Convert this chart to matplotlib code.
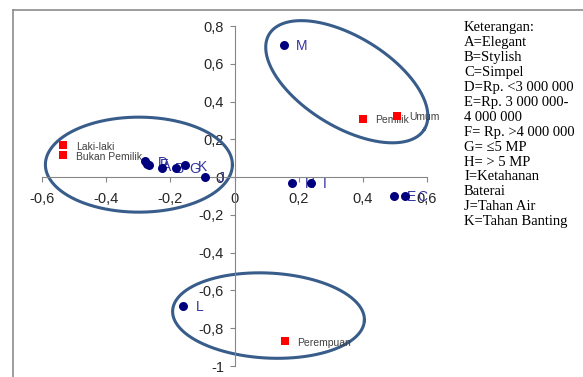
import numpy as np
import matplotlib
matplotlib.use('Agg')
import matplotlib.pyplot as plt
from matplotlib.lines import Line2D

# Attribute points (blue)
attr_labels = ['D', 'F', 'A', 'B', 'G', 'K', 'J', 'H', 'I', 'E', 'C', 'L', 'M']
attr_x = [-0.278, -0.272, -0.266, -0.225, -0.181, -0.153, -0.091, 0.180, 0.237, 0.497, 0.532, -0.160, 0.153]
attr_y = [0.084, 0.072, 0.062, 0.050, 0.050, 0.063, 0.003, -0.030, -0.030, -0.100, -0.100, -0.680, 0.700]

# Respondent groups (red)
group_labels = ['Laki-laki', 'Bukan Pemilik', 'Pemilik', 'Umum', 'Perempuan']
group_x = [-0.534, -0.534, 0.400, 0.506, 0.156]
group_y = [0.168, 0.116, 0.310, 0.326, -0.870]

x_ticks = [-0.6, -0.4, -0.2, 0, 0.2, 0.4, 0.6]
y_ticks = [-1, -0.8, -0.6, -0.4, -0.2, 0, 0.2, 0.4, 0.6, 0.8]

legend_lines = ['Keterangan:', 'A=Elegant', 'B=Stylish', 'C=Simpel',
                'D=Rp. <3 000 000', 'E=Rp. 3 000 000-', '4 000 000',
                'F= Rp. >4 000 000', 'G= \u22645 MP', 'H= > 5 MP',
                'I=Ketahanan', 'Baterai', 'J=Tahan Air', 'K=Tahan Banting']

# grouping ellipses: centre (data), semi-axes (pixels), angle (deg)
ellipses = [((-0.298, 0.066), 93.5, 47.5, 0),
            ((0.350, 0.505), 91, 45, -31.5),
            ((0.106, -0.733), 96, 42.5, -3)]


def fmt(v):
    s = ('%g' % v).replace('.', ',')
    return s


W, H = 583, 377
fig = plt.figure(figsize=(W / 100, H / 100), dpi=100)
ax = fig.add_axes([42 / W, 11 / H, 385 / W, 340 / H])
ax.set_xlim(-0.6, 0.6)
ax.set_ylim(-1, 0.8)

for s in ['top', 'right']:
    ax.spines[s].set_visible(False)
ax.spines['left'].set_position(('data', 0))
ax.spines['bottom'].set_position(('data', 0))
for s in ['left', 'bottom']:
    ax.spines[s].set_color('#868686')
    ax.spines[s].set_linewidth(0.8)

ax.set_xticks(x_ticks)
ax.set_yticks(y_ticks)
ax.set_xticklabels([fmt(v) for v in x_ticks])
ax.set_yticklabels([fmt(v) for v in y_ticks])
ax.tick_params(direction='out', length=3.5, width=0.8, color='#868686',
               labelsize=10.5, labelcolor='#262626')
ax.tick_params(axis='x', pad=7)
ax.tick_params(axis='y', pad=4)
for t in ax.get_xticklabels() + ax.get_yticklabels():
    t.set_family('Liberation Sans')
ax.patch.set_alpha(0)

# ellipses drawn in pixel space then mapped to data
fig.canvas.draw()
p0 = ax.transData.transform((0, 0))
p1 = ax.transData.transform((1, 1))
sx, sy = p1[0] - p0[0], p1[1] - p0[1]
t = np.linspace(0, 2 * np.pi, 300)
for (cx, cy), a, b, ang in ellipses:
    th = np.deg2rad(ang)
    ex = a * np.cos(t) * np.cos(th) - b * np.sin(t) * np.sin(th)
    ey = a * np.cos(t) * np.sin(th) + b * np.sin(t) * np.cos(th)
    ax.plot(cx + ex / sx, cy + ey / sy, color='#385D8A', lw=2.2, zorder=2,
            clip_on=False)

ax.scatter(attr_x, attr_y, s=42, color='#00007F', zorder=4, linewidths=0, clip_on=False)
ax.scatter(group_x, group_y, s=34, marker='s', color='#FF0000', zorder=4, linewidths=0,
           clip_on=False)

for lab, x, y in zip(attr_labels, attr_x, attr_y):
    ax.annotate(lab, (x, y), xytext=(9, -1), textcoords='offset points',
                ha='left', va='center', fontsize=10, color='#3333A0',
                family='Liberation Sans', zorder=3)
for lab, x, y in zip(group_labels, group_x, group_y):
    ax.annotate(lab, (x, y), xytext=(9, -1), textcoords='offset points',
                ha='left', va='center', fontsize=7.5, color='#404040',
                family='Liberation Sans', zorder=3)

# legend text block
for i, line in enumerate(legend_lines):
    fig.text(464 / W, 1 - (28 + i * 14.9) / H, line, ha='left', va='center',
             fontsize=10.5, family=['Liberation Serif', 'DejaVu Serif'], color='black')

# chart frame (cropped)
fig.add_artist(Line2D([13 / W, 13 / W], [0, 1 - 10 / H], color='#8C8C8C', lw=1.2,
                      transform=fig.transFigure))
fig.add_artist(Line2D([13 / W, 1], [1 - 10 / H, 1 - 10 / H], color='#8C8C8C', lw=1.2,
                      transform=fig.transFigure))

fig.savefig('out.png', dpi=100)
